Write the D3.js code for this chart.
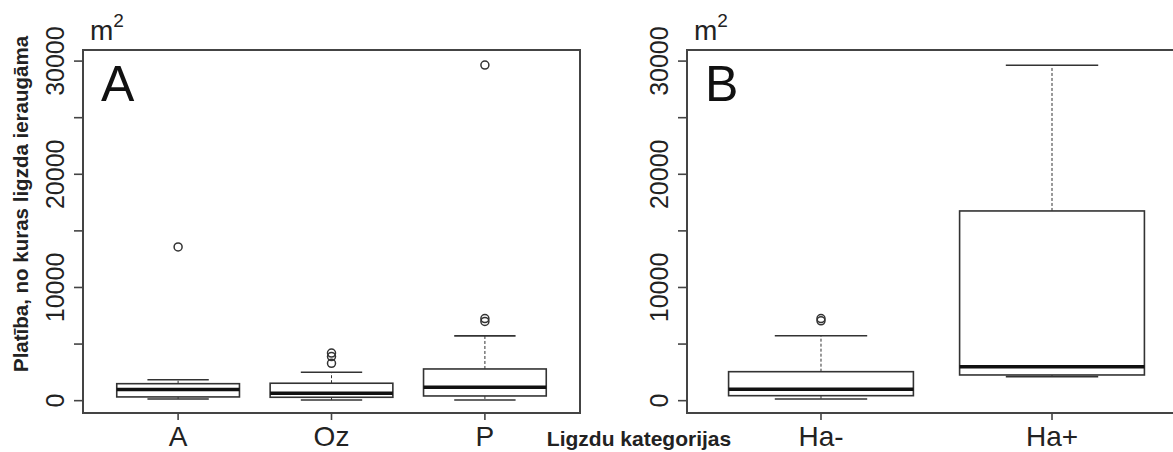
<!DOCTYPE html>
<html>
<head>
<meta charset="utf-8">
<script src="https://cdn.jsdelivr.net/npm/d3@7"></script>
<style>
  body { margin: 0; background: #fff; }
  svg { display: block; font-family: "Liberation Sans", Arial, sans-serif; }
</style>
</head>
<body>
<svg id="chart" width="1173" height="452"></svg>
<script>
// Boxplots of nest-visibility area (m2), by nest category. Two panels:
// A = habitat types, B = without / with Ha.
var yTicks = [0, 5000, 10000, 15000, 20000, 25000, 30000]
var yTickLabels = [0, 10000, 20000, 30000]

var catsA  = ['A', 'Oz', 'P']
var lowA   = [150, 60, 60]
var q1A    = [330, 300, 415]
var medA   = [980, 650, 1180]
var q3A    = [1500, 1540, 2800]
var highA  = [1850, 2510, 5720]
var outA   = [[13580], [3300, 3900, 4200], [7000, 7250, 29650]]

var catsB  = ['Ha-', 'Ha+']
var lowB   = [150, 2120]
var q1B    = [440, 2270]
var medB   = [1000, 3000]
var q3B    = [2560, 16760]
var highB  = [5740, 29630]
var outB   = [[7050, 7250], []]

var svg = d3.select('#chart')
var INK = '#333'

// shared y scale (R style: 4% padding beyond data range)
var y = d3.scaleLinear().domain([-1090, 30980]).range([413, 50])

function panel(opt){
  var n = opt.cats.length
  var x = d3.scaleLinear().domain([0.5 - n * 0.04, n + 0.5 + n * 0.04]).range([opt.left, opt.right])
  var g = svg.append('g')

  var stats = opt.cats.map(function(c, i){
    return {c: c, i: i + 1, low: opt.low[i], q1: opt.q1[i], med: opt.med[i], q3: opt.q3[i], high: opt.high[i], out: opt.out[i]}
  })

  // whiskers (dashed) + staples
  stats.forEach(function(d){
    g.append('line').attr('x1', x(d.i)).attr('x2', x(d.i)).attr('y1', y(d.q3)).attr('y2', y(d.high))
      .attr('stroke', INK).attr('stroke-width', 1).attr('stroke-dasharray', '3,2')
    g.append('line').attr('x1', x(d.i)).attr('x2', x(d.i)).attr('y1', y(d.q1)).attr('y2', y(d.low))
      .attr('stroke', INK).attr('stroke-width', 1).attr('stroke-dasharray', '3,2')
    ;[d.low, d.high].forEach(function(v){
      g.append('line').attr('x1', x(d.i - 0.2)).attr('x2', x(d.i + 0.2)).attr('y1', y(v)).attr('y2', y(v))
        .attr('stroke', INK).attr('stroke-width', 1.6)
    })
    g.append('rect').attr('x', x(d.i - 0.4)).attr('width', x(d.i + 0.4) - x(d.i - 0.4))
      .attr('y', y(d.q3)).attr('height', y(d.q1) - y(d.q3))
      .attr('fill', '#fff').attr('stroke', INK).attr('stroke-width', 1.6)
    g.append('line').attr('x1', x(d.i - 0.4)).attr('x2', x(d.i + 0.4)).attr('y1', y(d.med)).attr('y2', y(d.med))
      .attr('stroke', '#111').attr('stroke-width', 3.5)
    g.selectAll(null).data(d.out).enter().append('circle')
      .attr('cx', x(d.i)).attr('cy', function(v){ return y(v) }).attr('r', 4)
      .attr('fill', 'none').attr('stroke', INK).attr('stroke-width', 1.5)
  })

  // frame
  g.append('rect').attr('x', opt.left).attr('y', y.range()[1])
    .attr('width', opt.right - opt.left).attr('height', y.range()[0] - y.range()[1])
    .attr('fill', 'none').attr('stroke', '#444').attr('stroke-width', 2)

  // y axis ticks + rotated labels
  g.selectAll(null).data(yTicks).enter().append('line')
    .attr('x1', opt.left - 9).attr('x2', opt.left).attr('y1', y).attr('y2', y)
    .attr('stroke', '#444').attr('stroke-width', 1.6)
  g.selectAll(null).data(yTickLabels).enter().append('text')
    .attr('transform', function(v){ return 'translate(' + (opt.left - 19) + ',' + y(v) + ') rotate(-90)' })
    .attr('text-anchor', 'middle').attr('font-size', 25).attr('fill', '#222')
    .text(function(v){ return v })

  // x axis ticks + labels
  g.selectAll(null).data(stats).enter().append('line')
    .attr('x1', function(d){ return x(d.i) }).attr('x2', function(d){ return x(d.i) })
    .attr('y1', 413).attr('y2', 420).attr('stroke', '#444').attr('stroke-width', 1.6)
  g.selectAll(null).data(stats).enter().append('text')
    .attr('x', function(d){ return x(d.i) }).attr('y', 446)
    .attr('text-anchor', 'middle').attr('font-size', 28).attr('fill', '#222')
    .text(function(d){ return d.c })

  // unit + panel letter
  var m = g.append('text').attr('x', opt.left + 7).attr('y', 40).attr('font-size', 28).attr('fill', '#222')
  m.append('tspan').text('m')
  m.append('tspan').attr('font-size', 19).attr('dy', -13).text('2')
  g.append('text').attr('x', opt.left + 18).attr('y', 101).attr('font-size', 50).attr('fill', '#111')
    .text(opt.letter)
}

panel({cats: catsA, low: lowA, q1: q1A, med: medA, q3: q3A, high: highA, out: outA, left: 83, right: 580, letter: 'A'})
panel({cats: catsB, low: lowB, q1: q1B, med: medB, q3: q3B, high: highB, out: outB, left: 687, right: 1186, letter: 'B'})

// titles
svg.append('text').attr('transform', 'translate(28,204) rotate(-90)')
  .attr('text-anchor', 'middle').attr('font-size', 20.5).attr('font-weight', 'bold').attr('fill', '#222')
  .text('Platība, no kuras ligzda ieraugāma')
svg.append('text').attr('x', 639).attr('y', 446)
  .attr('text-anchor', 'middle').attr('font-size', 21).attr('font-weight', 'bold').attr('fill', '#222')
  .text('Ligzdu kategorijas')
</script>
</body>
</html>
